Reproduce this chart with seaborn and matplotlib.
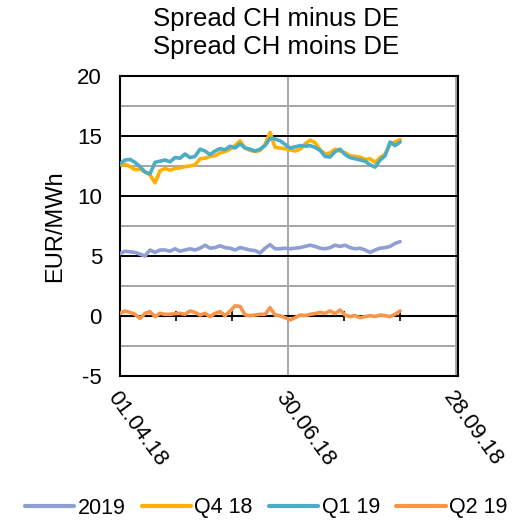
import numpy as np
import pandas as pd
import matplotlib
matplotlib.use("Agg")
import matplotlib.pyplot as plt
import matplotlib.dates as mdates
from matplotlib.ticker import MultipleLocator
import seaborn as sns

# ---- data ----
dates = pd.date_range("2018-04-01", "2018-08-29", periods=57)

s2019 = [5.2, 5.4, 5.35, 5.3, 5.15, 5.0, 5.5, 5.3, 5.5, 5.5, 5.4, 5.6, 5.4, 5.5, 5.6,
         5.5, 5.65, 5.9, 5.65, 5.7, 5.85, 5.7, 5.65, 5.5, 5.7, 5.6, 5.5, 5.45, 5.25,
         5.65, 5.95, 5.6, 5.6, 5.65, 5.6, 5.65, 5.7, 5.8, 5.9, 5.8, 5.65, 5.6, 5.7,
         5.9, 5.8, 5.9, 5.7, 5.6, 5.65, 5.5, 5.3, 5.5, 5.65, 5.7, 5.8, 6.05, 6.2]

q4_18 = [12.6, 12.65, 12.45, 12.2, 12.25, 12.0, 11.75, 11.1, 12.1, 12.3, 12.15, 12.3,
         12.35, 12.45, 12.5, 12.6, 13.1, 13.15, 13.3, 13.35, 13.6, 13.7, 13.9, 14.2,
         14.6, 14.0, 13.8, 13.7, 13.8,
         14.3, 15.3, 14.05, 14.0, 13.95, 13.85, 13.75, 13.9, 14.35, 14.65, 14.45,
         13.85, 13.5, 13.6, 13.9, 13.75, 13.6, 13.35, 13.3, 13.25, 13.05, 13.1, 12.8,
         13.2, 13.5, 14.3, 14.5, 14.7]

q1_19 = [12.7, 13.0, 13.05, 12.8, 12.45, 12.0, 11.85, 12.8, 12.9, 13.0, 12.85, 13.2,
         13.15, 13.5, 13.2, 13.3, 13.9, 13.75, 13.45, 13.75, 13.95, 13.85, 14.15, 14.0,
         14.35, 14.0, 13.9, 13.75, 13.9,
         14.2, 14.8, 14.75, 14.6, 14.3, 14.0, 14.1, 14.2, 14.15, 14.2, 14.05, 13.8,
         13.3, 13.25, 13.7, 13.9, 13.45, 13.2, 13.1, 13.0, 12.9, 12.6, 12.4, 13.0,
         13.35, 14.5, 14.2, 14.5]

q2_19 = [0.22, 0.42, 0.3, 0.14, -0.2, 0.22, 0.36, -0.05, 0.22, 0.14, 0.14, 0.2, 0.22,
         0.14, 0.42, 0.3, 0.08, 0.22, -0.05, 0.22, 0.36, 0.03, 0.4, 0.85, 0.8, 0.1,
         0.03, 0.08, 0.14,
         0.14, 0.7, 0.08, 0.03, -0.14, -0.33, -0.14, 0.08, 0.03, 0.14, 0.2, 0.3, 0.22,
         0.42, 0.2, 0.5, 0.08, -0.05, 0.03, -0.14, -0.05, 0.03, -0.05, 0.08, 0.03,
         -0.05, 0.14, 0.42]

series_names = ["2019", "Q4 18", "Q1 19", "Q2 19"]
colors = ["#8E9FD3", "#FFB000", "#4BACC6", "#F7964A"]
tick_dates = ["2018-04-01", "2018-06-30", "2018-09-28"]
tick_labels = ["01.04.18", "30.06.18", "28.09.18"]
title_lines = ["Spread CH minus DE", "Spread CH moins DE"]
ylabel = "EUR/MWh"

# ---- build table ----
xnum = mdates.date2num(dates)
df = pd.concat([
    pd.DataFrame({"x": xnum, "value": vals, "series": name})
    for name, vals in zip(series_names, [s2019, q4_18, q1_19, q2_19])
], ignore_index=True)

# ---- style ----
sns.set_style("white")
plt.rcParams["font.family"] = ["Liberation Sans", "DejaVu Sans"]
plt.rcParams["axes.unicode_minus"] = False
plt.rcParams["text.color"] = "black"
plt.rcParams["axes.labelcolor"] = "black"
plt.rcParams["xtick.color"] = "black"
plt.rcParams["ytick.color"] = "black"
plt.rcParams["xtick.labelcolor"] = "black"
plt.rcParams["ytick.labelcolor"] = "black"

fig = plt.figure(figsize=(5.18, 5.21), dpi=100)
ax = fig.add_axes([120 / 518, 1 - 376 / 521, 338 / 518, 300 / 521])

sns.lineplot(data=df, x="x", y="value", hue="series", hue_order=series_names,
             palette=dict(zip(series_names, colors)), lw=2.6, ax=ax, legend=True,
             zorder=3)

x0 = mdates.date2num(pd.Timestamp("2018-04-01"))
ax.set_xlim(x0, x0 + 181)
ax.set_ylim(-5, 20)

# y axis
ax.yaxis.set_major_locator(MultipleLocator(5))
ax.yaxis.set_minor_locator(MultipleLocator(2.5))
ax.grid(which="major", axis="y", color="black", lw=1.4, zorder=1)
ax.grid(which="minor", axis="y", color="#A6A6A6", lw=1.4, zorder=0)
ax.tick_params(axis="y", which="both", length=0, pad=13, labelsize=16,
               labelcolor="black")

# x axis
tpos = mdates.date2num(pd.to_datetime(tick_dates))
ax.set_xticks(tpos)
ax.set_xticklabels(tick_labels, rotation=-54, ha="left", va="top",
                   rotation_mode="anchor")
ax.grid(which="major", axis="x", color="#A6A6A6", lw=1.4, zorder=0)
ax.tick_params(axis="x", which="both", length=0, pad=8, labelsize=16,
               labelcolor="black")

ax.set_xlabel("")
ax.set_ylabel(ylabel, fontsize=17, labelpad=8, color="black")

for sp in ax.spines.values():
    sp.set_visible(True)
    sp.set_color("black")
    sp.set_linewidth(1.5)

# zero-line axis with monthly tick marks
sec = ax.secondary_xaxis(0.2)
sec.spines["bottom"].set_color("black")
sec.spines["bottom"].set_linewidth(1.5)
sec.set_xticks(x0 + np.array([0, 30, 60, 90, 120, 150]))
sec.tick_params(axis="x", direction="inout", length=7, width=1.2, labelbottom=False,
                color="black")

# legend
handles, labels = ax.get_legend_handles_labels()
ax.get_legend().remove()
for h in handles:
    h.set_linewidth(3)
leg = fig.legend(handles, labels, loc="center", bbox_to_anchor=(266 / 518, 1 - 508 / 521),
                 ncol=4, frameon=False, fontsize=15.5, handlelength=2.3,
                 handletextpad=0.15, columnspacing=0.75, borderaxespad=0)
for t in leg.get_texts():
    t.set_color("black")

# title
fig.text(276 / 518, 1 - 33 / 521, "\n".join(title_lines), ha="center", va="center",
         fontsize=18.5, linespacing=1.22, color="black")

fig.savefig("out.png", dpi=100)
